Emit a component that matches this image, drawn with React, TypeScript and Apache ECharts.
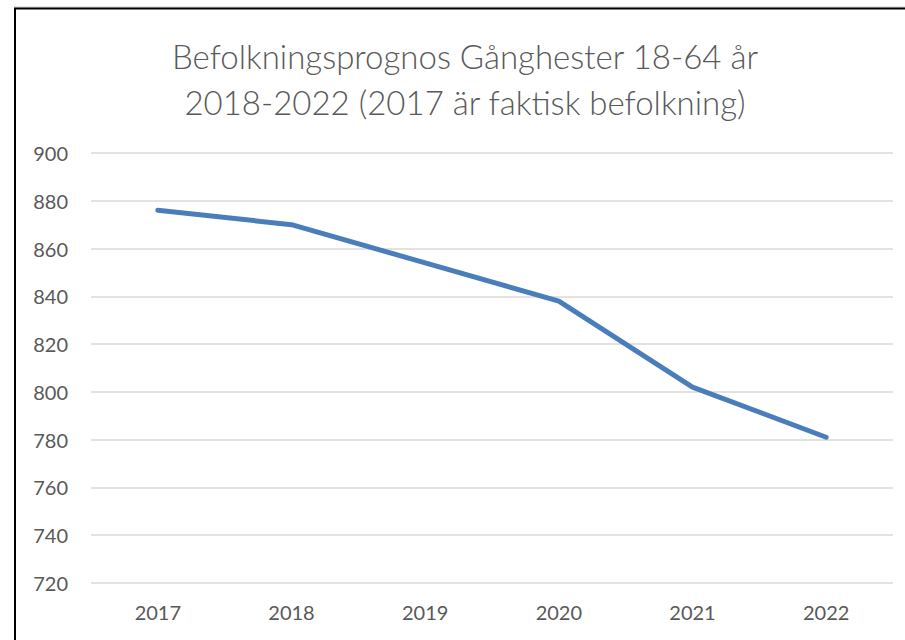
import React, { useEffect, useRef } from "react";
import * as echarts from "echarts";

const years = ["2017", "2018", "2019", "2020", "2021", "2022"];
const population = [876, 870, 854, 838, 802, 781];
const titleLines = ["Befolkningsprognos Gånghester 18-64 år", "2018-2022 (2017 är faktisk befolkning)"];

export default function App() {
  const ref = useRef<HTMLDivElement>(null);
  useEffect(() => {
    if (!ref.current) return;
    const chart = echarts.init(ref.current, null, { renderer: "svg" });
    chart.setOption({
      animation: false,
      backgroundColor: "#ffffff",
      title: {
        text: titleLines.join("\n"),
        left: 460,
        top: 28,
        textAlign: "center",
        textStyle: {
          fontFamily: "Lato",
          fontWeight: 300,
          fontSize: 33,
          lineHeight: 46,
          color: "#595959",
        },
      },
      grid: { left: 91, right: 12, top: 153, bottom: 57 },
      xAxis: {
        type: "category",
        data: years,
        boundaryGap: true,
        axisLine: { show: false },
        axisTick: { show: false },
        axisLabel: { color: "#595959", fontFamily: "Lato", fontSize: 20, margin: 19 },
      },
      yAxis: {
        type: "value",
        min: 720,
        max: 900,
        interval: 20,
        axisLine: { show: false },
        axisTick: { show: false },
        axisLabel: { color: "#595959", fontFamily: "Lato", fontSize: 20, margin: 23 },
        splitLine: { lineStyle: { color: "#d9d9d9", width: 1.5 } },
      },
      series: [
        {
          type: "line",
          data: population,
          symbol: "none",
          lineStyle: { color: "#4a7ebb", width: 5, cap: "round", join: "round" },
        },
      ],
      graphic: [
        { type: "line", shape: { x1: 14, y1: 7, x2: 905, y2: 7 }, style: { stroke: "#c8c8c8", lineWidth: 1 } },
        { type: "line", shape: { x1: 14, y1: 8.5, x2: 905, y2: 8.5 }, style: { stroke: "#000000", lineWidth: 2 } },
        { type: "line", shape: { x1: 15, y1: 8, x2: 15, y2: 640 }, style: { stroke: "#000000", lineWidth: 2 } },
      ],
    });
    return () => chart.dispose();
  }, []);
  return (
    <div
      ref={ref}
      style={{ position: "absolute", left: 0, top: 0, width: 905, height: 640 }}
    />
  );
}
